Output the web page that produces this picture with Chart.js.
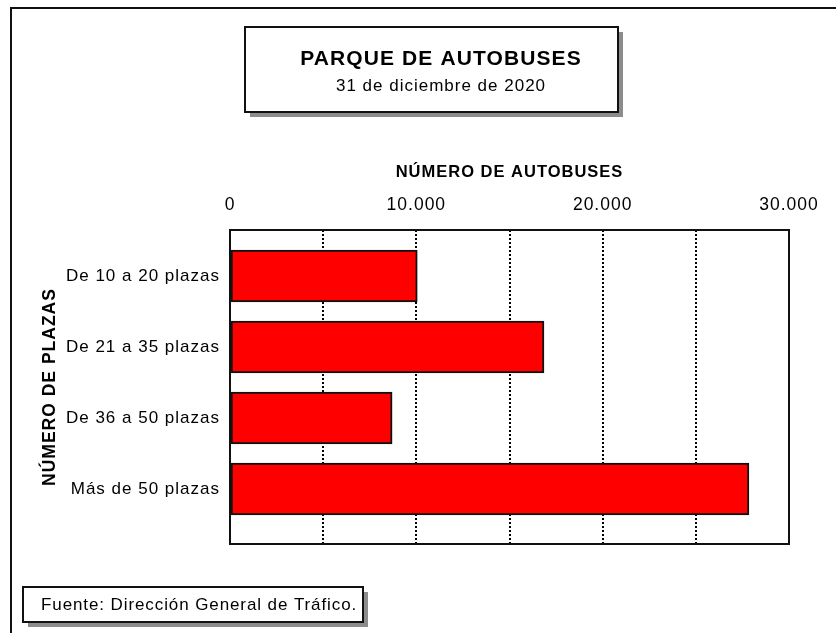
<!DOCTYPE html>
<html>
<head>
<meta charset="utf-8">
<script src="https://cdn.jsdelivr.net/npm/chart.js@4.4.0/dist/chart.umd.min.js"></script>
<style>
  html, body { margin: 0; padding: 0; background: #fff; }
  #wrap { width: 836px; height: 633px; position: relative; }
</style>
</head>
<body>
<div id="wrap"><canvas id="busChart" width="836" height="633"></canvas></div>
<script>
// Chart data
const categories = ["De 10 a 20 plazas", "De 21 a 35 plazas", "De 36 a 50 plazas", "Más de 50 plazas"];
const busCounts = [10050, 16850, 8700, 27850];
const tickLabels = ["0", "10.000", "20.000", "30.000"];

const titleText = "PARQUE DE AUTOBUSES";
const subtitleText = "31 de diciembre de 2020";
const sourceText = "Fuente: Dirección General de Tráfico.";
const xAxisTitle = "NÚMERO DE AUTOBUSES";
const yAxisTitle = "NÚMERO DE PLAZAS";

const FONT = "'Liberation Sans', Arial, sans-serif";

// the original text is set a bit wide, so space the letters out
const spacing = {
  id: "spacing",
  beforeUpdate(chart) { chart.ctx.letterSpacing = "1px"; },
  beforeDraw(chart) { chart.ctx.letterSpacing = "1px"; }
};

// Draws the outer frame, the plot frame and the title / source boxes
const decorations = {
  id: "decorations",
  beforeDraw(chart) {
    const ctx = chart.ctx;
    ctx.save();
    ctx.fillStyle = "#fff";
    ctx.fillRect(0, 0, chart.width, chart.height);
    // outer frame (top and left only)
    ctx.strokeStyle = "#111";
    ctx.lineWidth = 2;
    ctx.beginPath();
    ctx.moveTo(11, chart.height);
    ctx.lineTo(11, 8);
    ctx.lineTo(chart.width, 8);
    ctx.stroke();
    ctx.restore();
  },
  afterDatasetsDraw(chart) {
    const ctx = chart.ctx;
    const a = chart.chartArea;
    ctx.save();
    ctx.strokeStyle = "#111";
    ctx.lineWidth = 2;
    ctx.strokeRect(a.left, a.top, a.right - a.left, a.bottom - a.top);
    ctx.restore();
  },
  afterDraw(chart) {
    const ctx = chart.ctx;
    const box = (x, y, w, h) => {
      ctx.fillStyle = "#8c8c8c";
      ctx.fillRect(x + 5, y + 5, w, h);
      ctx.fillStyle = "#fff";
      ctx.fillRect(x, y, w, h);
      ctx.strokeStyle = "#111";
      ctx.lineWidth = 2;
      ctx.strokeRect(x, y, w, h);
    };
    ctx.save();
    box(245, 27, 373, 85);
    ctx.fillStyle = "#000";
    ctx.textAlign = "center";
    ctx.textBaseline = "middle";
    ctx.letterSpacing = "1.1px";
    ctx.font = "bold 21px " + FONT;
    ctx.fillText(titleText, 441, 59);
    ctx.letterSpacing = "1px";
    ctx.font = "17px " + FONT;
    ctx.fillText(subtitleText, 441, 86);

    box(23, 587, 340, 35);
    ctx.textAlign = "left";
    ctx.letterSpacing = "0.9px";
    ctx.font = "17px " + FONT;
    ctx.fillStyle = "#000";
    ctx.fillText(sourceText, 41, 605);
    ctx.restore();
  }
};

new Chart(document.getElementById("busChart"), {
  type: "bar",
  data: {
    datasets: [{
      data: busCounts.map((v, i) => ({ x: v, y: i })),
      backgroundColor: "#ff0000",
      borderColor: "#111",
      borderWidth: 2,
      borderSkipped: false,
      barThickness: 52
    }]
  },
  options: {
    indexAxis: "y",
    responsive: false,
    animation: false,
    layout: { padding: { left: 30, top: 160, right: 47, bottom: 89 } },
    plugins: {
      legend: { display: false },
      tooltip: { enabled: false }
    },
    scales: {
      x: {
        position: "top",
        min: 0,
        max: 30000,
        afterFit: (s) => { s.height = 70; },
        grid: {
          color: "#000",
          lineWidth: 2,
          drawTicks: false
        },
        border: { display: false, dash: [2, 2] },
        ticks: {
          stepSize: 5000,
          padding: 14,
          color: "#000",
          font: { family: FONT, size: 17.5 },
          maxRotation: 0,
          callback: (v) => (v % 10000 === 0 ? tickLabels[v / 10000] : "")
        },
        title: {
          display: true,
          text: xAxisTitle,
          color: "#000",
          font: { family: FONT, size: 16.5, weight: "bold" },
          padding: { top: 3, bottom: 0 }
        }
      },
      y: {
        type: "linear",
        reverse: true,
        offset: false,
        bounds: "data",
        min: -0.648,
        max: 3.775,
        afterFit: (s) => { s.width = 200; },
        afterBuildTicks: (s) => { s.ticks = categories.map((c, i) => ({ value: i })); },
        grid: { display: false, drawTicks: false, offset: false },
        border: { display: false },
        ticks: {
          padding: 10,
          color: "#000",
          font: { family: FONT, size: 17 },
          callback: (v) => categories[v]
        },
        title: {
          display: true,
          text: yAxisTitle,
          color: "#000",
          font: { family: FONT, size: 17.5, weight: "bold" },
          padding: { top: 10, bottom: 0 }
        }
      }
    }
  },
  plugins: [spacing, decorations]
});
</script>
</body>
</html>
